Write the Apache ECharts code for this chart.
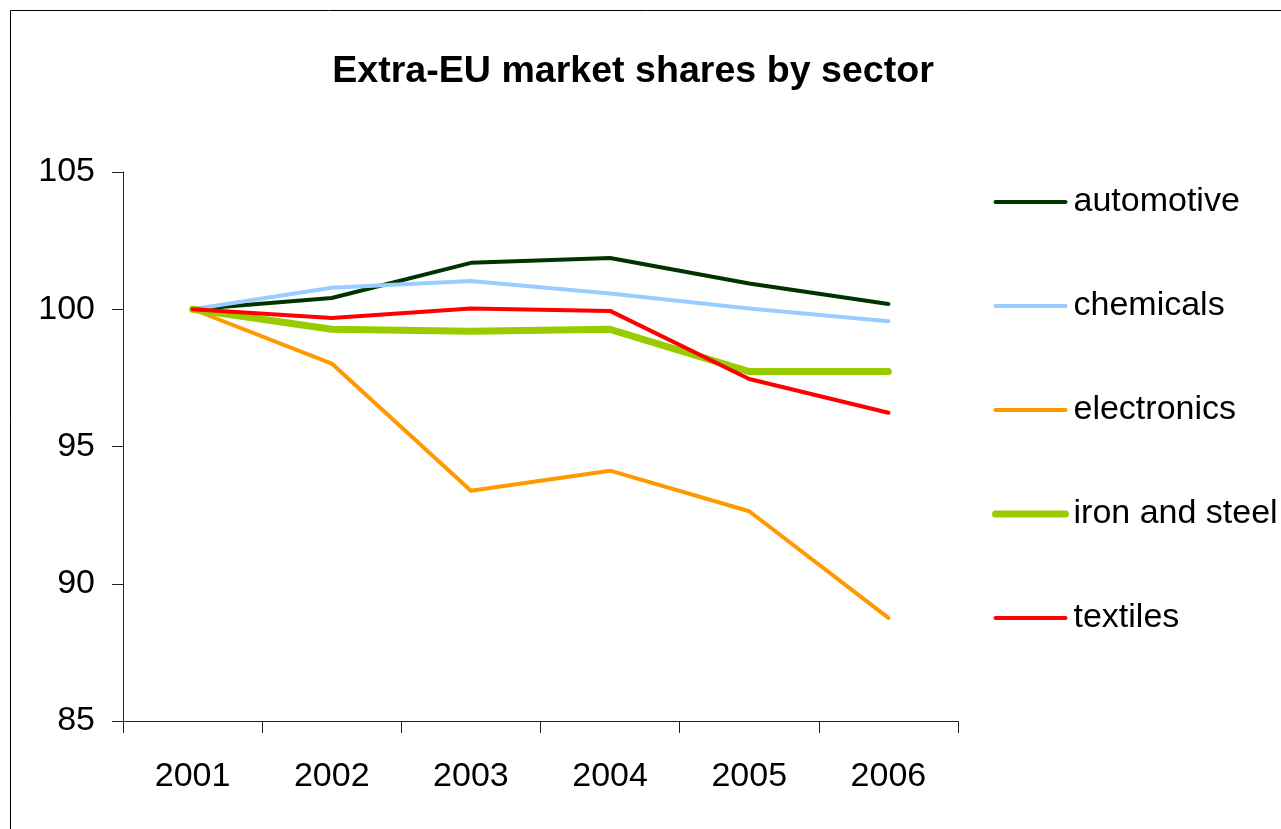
<!DOCTYPE html>
<html>
<head>
<meta charset="utf-8">
<script src="https://cdn.jsdelivr.net/npm/echarts@6/dist/echarts.min.js"></script>
<style>
html,body{margin:0;padding:0;background:#fff;}
#chart{width:1281px;height:829px;}
</style>
</head>
<body>
<div id="chart"></div>
<script>
const years = ['2001', '2002', '2003', '2004', '2005', '2006'];
const automotive = [100, 100.41, 101.69, 101.87, 100.94, 100.19];
const chemicals = [100, 100.78, 101.03, 100.57, 100.03, 99.56];
const electronics = [100, 98.02, 93.39, 94.12, 92.64, 88.76];
const ironAndSteel = [100, 99.27, 99.2, 99.27, 97.73, 97.73];
const textiles = [100, 99.68, 100.03, 99.94, 97.46, 96.23];
const seriesNames = ['automotive', 'chemicals', 'electronics', 'iron and steel', 'textiles'];
const seriesData = [automotive, chemicals, electronics, ironAndSteel, textiles];
const seriesColors = ['#003300', '#99CCFF', '#FF9900', '#99CC00', '#FF0000'];
const seriesWidths = [4, 4, 4, 7, 4];

const FONT = '"Liberation Sans", Arial, sans-serif';
const chart = echarts.init(document.getElementById('chart'), null, {renderer: 'canvas'});
chart.setOption({
  animation: false,
  backgroundColor: '#fff',
  title: {
    text: 'Extra-EU market shares by sector',
    left: 628, top: 48, textAlign: 'center',
    textStyle: {fontFamily: FONT, fontSize: 37.6, fontWeight: 'bold', color: '#000'}
  },
  graphic: [{
    type: 'rect', shape: {x: 10.5, y: 10.5, width: 1400, height: 1000},
    style: {fill: 'none', stroke: '#000', lineWidth: 1}, silent: true, z: 100
  }],
  legend: {
    orient: 'vertical',
    left: 992, top: 185, padding: 0,
    itemWidth: 70, itemHeight: 20, itemGap: 70,
    textStyle: {fontFamily: FONT, fontSize: 34, color: '#000', padding: [0, 0, 0, 3]},
    data: seriesNames.map((n, i) => ({
      name: n,
      itemStyle: {color: seriesColors[i], opacity: 0, borderWidth: 0},
      lineStyle: {color: seriesColors[i], width: seriesWidths[i], cap: 'round', opacity: 1}
    }))
  },
  grid: {left: 123, right: 323, top: 172, bottom: 108, containLabel: false},
  xAxis: {
    type: 'category', data: years, boundaryGap: true,
    axisLine: {lineStyle: {color: '#222', width: 1}},
    axisTick: {show: true, inside: false, length: 12, alignWithLabel: false, lineStyle: {color: '#222'}},
    axisLabel: {fontFamily: FONT, fontSize: 34, color: '#000', margin: 39},
    splitLine: {show: false}
  },
  yAxis: {
    type: 'value', min: 85, max: 105, interval: 5,
    axisLine: {show: true, lineStyle: {color: '#222', width: 1}},
    axisTick: {show: true, length: 11, lineStyle: {color: '#222'}},
    axisLabel: {fontFamily: FONT, fontSize: 34, color: '#000', margin: 28},
    splitLine: {show: false}
  },
  series: seriesNames.map((n, i) => ({
    name: n, type: 'line', data: seriesData[i],
    symbol: 'none', smooth: false,
    lineStyle: {color: seriesColors[i], width: seriesWidths[i], cap: 'round', join: 'round'},
    itemStyle: {color: seriesColors[i]}
  }))
});
</script>
</body>
</html>
